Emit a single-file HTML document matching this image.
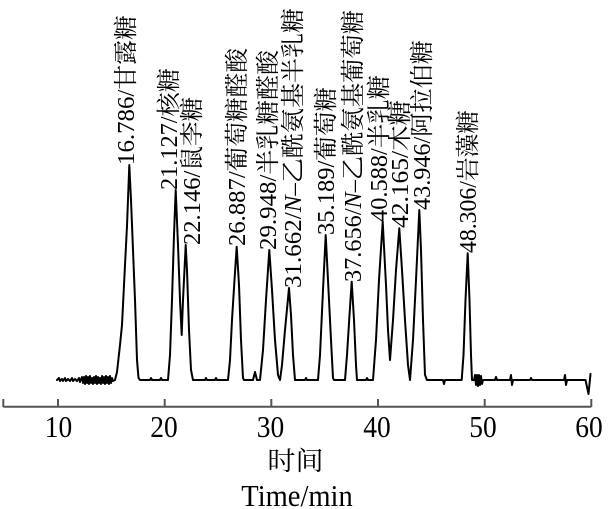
<!DOCTYPE html>
<html>
<head>
<meta charset="utf-8">
<style>
  html, body { margin: 0; padding: 0; background: #fff; }
  svg { display: block; }
  .lbl { font-family: "Liberation Serif", "Noto Serif CJK SC", serif; font-size: 24px; fill: #000; }
  .tick { font-family: "Liberation Serif", serif; font-size: 30.5px; fill: #000; }
</style>
</head>
<body>
<svg width="609" height="509" viewBox="0 0 609 509" xmlns="http://www.w3.org/2000/svg">
  <rect width="609" height="509" fill="#fff"/>

  <!-- chromatogram trace -->
  <path fill="none" stroke="#000" stroke-width="2" stroke-linejoin="round" stroke-linecap="round"
   d="M57,380 L59,378 L60,381 L62,379 L63,381 L65,378 L66,381 L68,379 L70,381 L72,378 L73,381 L75,379 L77,381 L79,378 L80,382 L82,377 L83,383 L84,377 L85,384 L86,376 L87,383 L88,377 L89,384 L90,376 L91,383 L92,378 L93,384 L94,377 L95,383 L96,376 L97,384 L98,377 L99,383 L100,378 L101,384 L102,376 L103,383 L104,377 L105,384 L106,376 L107,383 L108,377 L109,384 L110,376 L111,383 L112,378 L113,381 L115,380
   L117,372 L120,345 L122,325 L125,265 L127,226 L129.3,165 L131,200 L133,250 L135,300 L137,360 L138.5,378 L140,380
   L150,380 L151,378 L152,380 L160,380 L161,378 L162,380 L168,380
   L170,355 L172,300 L174,235 L175.7,190 L178,245 L180,300 L181.7,335 L183,300 L185.7,245 L187,270 L189,330 L191,370 L193,380
   L205,380 L206,378 L207,380 L215,380 L216,378 L217,380 L228,380
   L230,360 L232,320 L234.5,280 L236.7,246.7 L239,285 L241,340 L243,378 L244,380
   L253,380 L255,372 L257,380 L260,380
   L263,350 L266,300 L269.3,250 L272,290 L275,340 L278,375 L280,380
   L282,365 L285,330 L289,288 L291,315 L293,355 L295,380
   L305,380 L306,378 L307,380 L318,380
   L320,355 L323,290 L325.7,235 L328,280 L331,340 L333,378 L334,380
   L345,380
   L347,355 L349.5,315 L351.7,281.7 L354,320 L356,365 L357,380
   L366,380 L367,378 L368,380 L373,380
   L376,340 L379,280 L382.7,221.7 L386,285 L388,330 L390,360
   L393,320 L396,270 L399.3,228.3 L402,270 L405,320 L408,365 L410,380
   L413,340 L416,280 L419.3,210 L421,250 L423,320 L425,375 L427,380
   L443,380 L444,384 L445,380 L461.7,380
   L463.5,355 L465.5,300 L467.7,253.3 L469.5,300 L471,355 L472,380
   L474,380 L475,375 L476,385 L477,375 L478,386 L479,375 L480,385 L481,376 L482,384 L483,380
   L495,380 L496,377 L497,380 L510,380 L511,375 L512,385 L513,380 L530,380 L531,378 L532,380
   L550,380 L564,380 L565,375 L566,385 L567,380 L585.5,380 L588.5,394 L590.5,374"/>

  <!-- x axis -->
  <g stroke="#555" stroke-width="2">
    <line x1="3.3" y1="406.7" x2="591.3" y2="406.7"/>
    <line x1="3.3" y1="399" x2="3.3" y2="407"/>
    <line x1="58" y1="399" x2="58" y2="407"/>
    <line x1="164.7" y1="399" x2="164.7" y2="407"/>
    <line x1="271.3" y1="399" x2="271.3" y2="407"/>
    <line x1="378" y1="399" x2="378" y2="407"/>
    <line x1="484.7" y1="399" x2="484.7" y2="407"/>
    <line x1="591.3" y1="399" x2="591.3" y2="407"/>
  </g>

  <!-- tick labels -->
  <g class="tick" text-anchor="middle">
    <text transform="translate(58.5,437) scale(0.9,1)">10</text>
    <text transform="translate(164,437) scale(0.9,1)">20</text>
    <text transform="translate(270.5,437) scale(0.9,1)">30</text>
    <text transform="translate(377,437) scale(0.9,1)">40</text>
    <text transform="translate(483,437) scale(0.9,1)">50</text>
    <text transform="translate(589,437) scale(0.9,1)">60</text>
  </g>

  <!-- axis title -->
  <text transform="translate(295.5,470) scale(1.08,1)" text-anchor="middle"
        style="font-family:'Noto Serif CJK SC','Noto Sans CJK SC',serif;font-size:26px;fill:#000;">时间</text>
  <text transform="translate(297,506) scale(0.92,1)" text-anchor="middle"
        style="font-family:'Liberation Serif',serif;font-size:31px;fill:#000;">Time/min</text>

  <!-- peak labels (rotated) -->
  <g class="lbl">
    <text transform="translate(134,165) rotate(-90)" textLength="150" lengthAdjust="spacingAndGlyphs">16.786/甘露糖</text>
    <text transform="translate(177,190) rotate(-90)" textLength="122" lengthAdjust="spacingAndGlyphs">21.127/核糖</text>
    <text transform="translate(200,245) rotate(-90)" textLength="148" lengthAdjust="spacingAndGlyphs">22.146/鼠李糖</text>
    <text transform="translate(245,246) rotate(-90)" textLength="198" lengthAdjust="spacingAndGlyphs">26.887/葡萄糖醛酸</text>
    <text transform="translate(276,250) rotate(-90)" textLength="200" lengthAdjust="spacingAndGlyphs">29.948/半乳糖醛酸</text>
    <text transform="translate(301,288) rotate(-90)" textLength="280" lengthAdjust="spacingAndGlyphs">31.662/<tspan font-style="italic">N</tspan>–乙酰氨基半乳糖</text>
    <text transform="translate(334,235) rotate(-90)" textLength="148" lengthAdjust="spacingAndGlyphs">35.189/葡萄糖</text>
    <text transform="translate(361,282) rotate(-90)" textLength="272" lengthAdjust="spacingAndGlyphs">37.656/<tspan font-style="italic">N</tspan>–乙酰氨基葡萄糖</text>
    <text transform="translate(387,222) rotate(-90)" textLength="147" lengthAdjust="spacingAndGlyphs">40.588/半乳糖</text>
    <text transform="translate(408,228) rotate(-90)" textLength="128" lengthAdjust="spacingAndGlyphs">42.165/木糖</text>
    <text transform="translate(430,210) rotate(-90)" textLength="170" lengthAdjust="spacingAndGlyphs">43.946/阿拉伯糖</text>
    <text transform="translate(476,253) rotate(-90)" textLength="143" lengthAdjust="spacingAndGlyphs">48.306/岩藻糖</text>
  </g>
</svg>
</body>
</html>
